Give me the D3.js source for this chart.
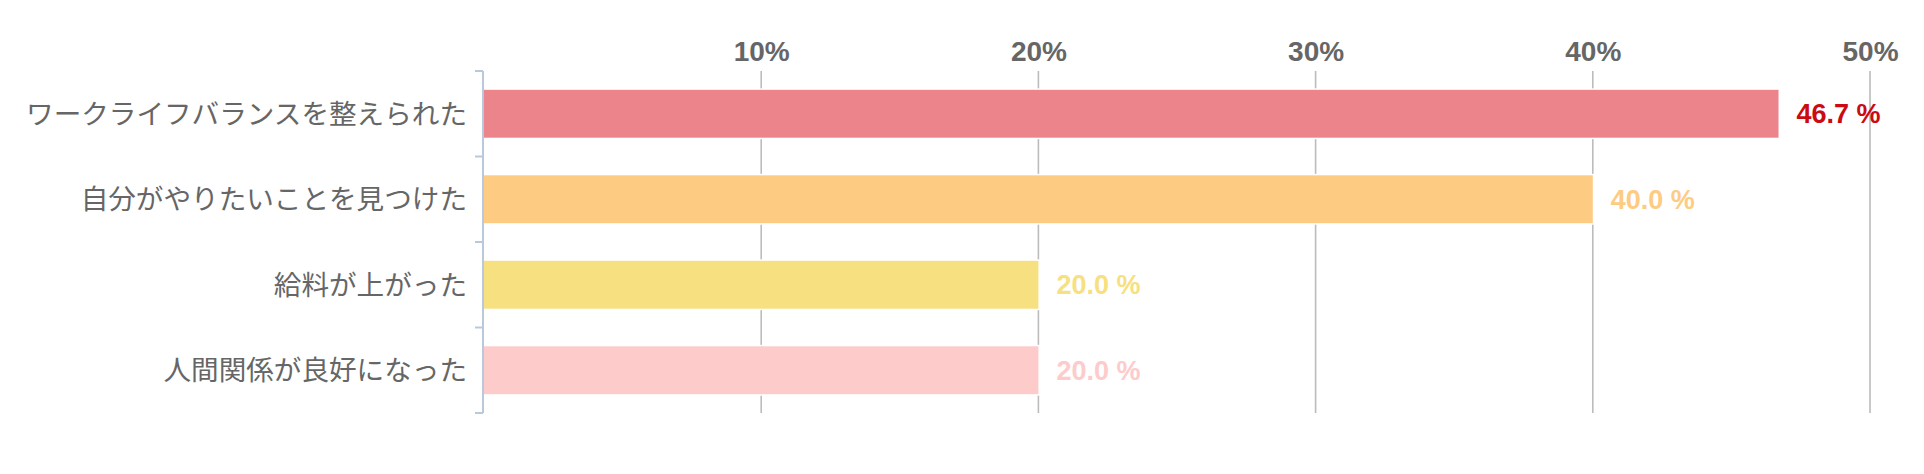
<!DOCTYPE html>
<html>
<head>
<meta charset="utf-8">
<script src="https://cdn.jsdelivr.net/npm/d3@7"></script>
<style>
  html, body { margin: 0; padding: 0; background: #fff; }
  svg { display: block; }
</style>
</head>
<body>
<svg id="chart" width="1924" height="474"></svg>
<script>
const categories = [
  "ワークライフバランスを整えられた",
  "自分がやりたいことを見つけた",
  "給料が上がった",
  "人間関係が良好になった"
];
const values = [46.7, 40.0, 20.0, 20.0];
const barColors = ["#ec848b", "#fecb82", "#f7e07f", "#fecbcb"];
const labelColors = ["#cc0a12", "#fecb82", "#f7e07f", "#fecbcb"];
const tickValues = [10, 20, 30, 40, 50];
const tickLabels = ["10%", "20%", "30%", "40%", "50%"];

(function () {
const svg = d3.select("#chart");
const mLeft = 484, mRight = 1870, mTop = 71, mBottom = 413;

const x = d3.scaleLinear().domain([0, 50]).range([mLeft, mRight]);
const y = d3.scaleBand().domain(categories).range([mTop, mBottom]).padding(0);
const barH = y.bandwidth() * 0.56;

// gridlines
svg.append("g").selectAll("line")
  .data(tickValues)
  .join("line")
  .attr("x1", d => x(d)).attr("x2", d => x(d))
  .attr("y1", mTop).attr("y2", mBottom)
  .attr("stroke", "#bcbcbc")
  .attr("stroke-width", 1.6);

// top axis labels
const topAxis = d3.axisTop(x)
  .tickValues(tickValues)
  .tickFormat((d, i) => tickLabels[i])
  .tickSize(0)
  .tickPadding(10);
const gTop = svg.append("g").attr("transform", `translate(0,${mTop})`).call(topAxis);
gTop.select(".domain").remove();
gTop.selectAll("text")
  .attr("fill", "#666")
  .style("font-family", "'Liberation Sans', Arial, sans-serif")
  .style("font-weight", "bold")
  .style("font-size", "28px");

// bars
svg.append("g").selectAll("rect")
  .data(values)
  .join("rect")
  .attr("x", x(0))
  .attr("y", (d, i) => y(categories[i]) + (y.bandwidth() - barH) / 2)
  .attr("width", d => x(d) - x(0))
  .attr("height", barH)
  .attr("fill", (d, i) => barColors[i])
  .attr("stroke", "#fff")
  .attr("stroke-width", 3)
  .attr("paint-order", "stroke");

// left axis line and boundary ticks
const gLeft = svg.append("g");
gLeft.append("line")
  .attr("x1", mLeft - 1).attr("x2", mLeft - 1)
  .attr("y1", mTop).attr("y2", mBottom)
  .attr("stroke", "#b9c8da").attr("stroke-width", 2);
const boundaries = categories.map(c => y(c)).concat([y(categories[categories.length - 1]) + y.bandwidth()]);
gLeft.selectAll("line.tick")
  .data(boundaries)
  .join("line")
  .attr("class", "tick")
  .attr("x1", mLeft - 9).attr("x2", mLeft - 1)
  .attr("y1", d => d).attr("y2", d => d)
  .attr("stroke", "#b9c8da").attr("stroke-width", 2);

// category labels
svg.append("g").selectAll("text")
  .data(categories)
  .join("text")
  .attr("x", mLeft - 17)
  .attr("y", d => y(d) + y.bandwidth() / 2)
  .attr("dy", "0.36em")
  .attr("text-anchor", "end")
  .attr("fill", "#666")
  .style("font-family", "'Noto Sans CJK JP', sans-serif")
  .style("font-weight", 400)
  .style("font-size", "27.6px")
  .text(d => d);

// value labels
svg.append("g").selectAll("text")
  .data(values)
  .join("text")
  .attr("x", d => x(d) + 18)
  .attr("y", (d, i) => y(categories[i]) + y.bandwidth() / 2)
  .attr("dy", "0.36em")
  .attr("fill", (d, i) => labelColors[i])
  .style("font-family", "'Liberation Sans', Arial, sans-serif")
  .style("font-weight", "bold")
  .style("font-size", "27px")
  .text(d => d.toFixed(1) + " %");
})();
</script>
</body>
</html>
